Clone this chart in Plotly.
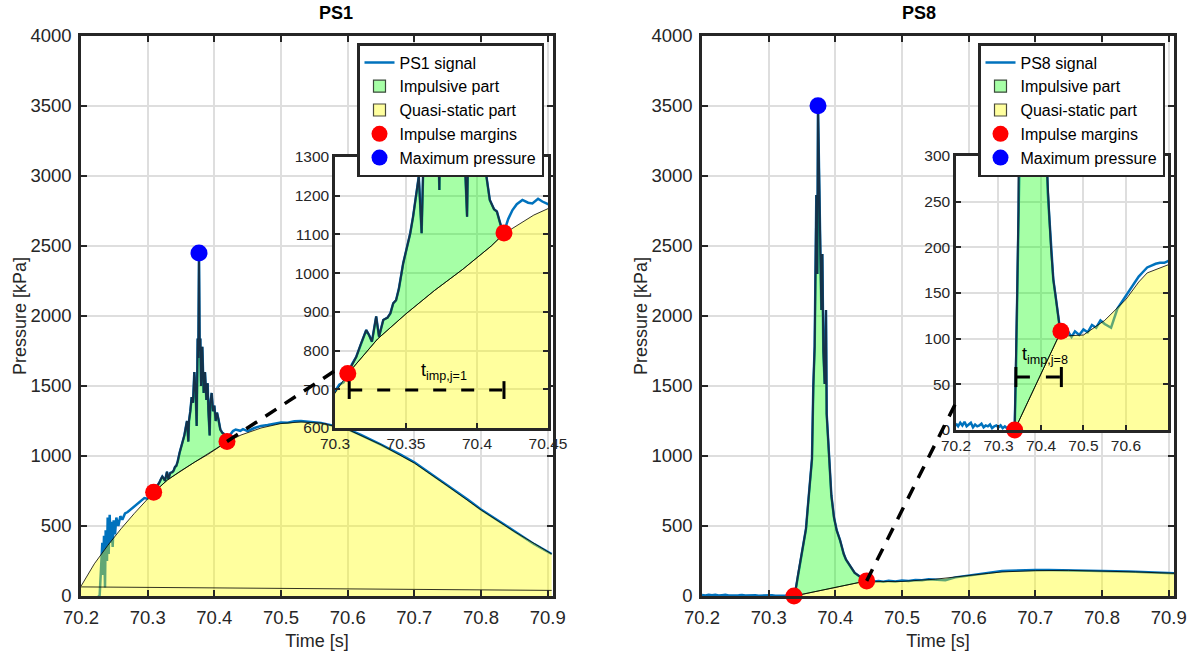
import numpy as np
import plotly.graph_objects as go

# ---------------- PS1 data ----------------
ps1_t = [70.200, 70.205, 70.210, 70.215, 70.220, 70.225, 70.228, 70.230, 70.232, 70.233,
         70.2345, 70.236, 70.237, 70.239, 70.240, 70.2415, 70.243, 70.2445, 70.246, 70.2475,
         70.249, 70.251, 70.253, 70.256, 70.259, 70.262, 70.266, 70.270, 70.275, 70.280,
         70.285, 70.290, 70.295, 70.300, 70.303, 70.306, 70.309, 70.312, 70.315, 70.318,
         70.320, 70.322, 70.324, 70.326, 70.329, 70.331, 70.334, 70.337, 70.339, 70.341,
         70.343, 70.345, 70.348, 70.351, 70.353, 70.355, 70.357, 70.358, 70.359, 70.361,
         70.362, 70.364, 70.366, 70.368, 70.370, 70.372, 70.3735, 70.375, 70.376, 70.377,
         70.378, 70.379, 70.380, 70.382, 70.384, 70.386, 70.388, 70.390, 70.391, 70.393,
         70.394, 70.396, 70.398, 70.400, 70.402, 70.404, 70.406, 70.409, 70.412, 70.414,
         70.417, 70.419, 70.422, 70.425, 70.428, 70.432, 70.436, 70.439, 70.443, 70.446,
         70.450, 70.460, 70.470, 70.480, 70.490, 70.500, 70.510, 70.520, 70.530, 70.540,
         70.550, 70.560, 70.580, 70.600, 70.620, 70.650, 70.680, 70.700, 70.730, 70.750,
         70.780, 70.800, 70.830, 70.850, 70.880, 70.906]
ps1_p = [-15, -20, -18, -22, -15, -10, 5, 200, 380, 150,
         430, 60, 470, 250, 560, 300, 580, 380, 530, 350,
         540, 440, 560, 500, 570, 545, 590, 600, 620, 640,
         665, 680, 700, 695, 712, 718, 742, 765, 784, 815,
         836, 853, 840, 823, 888, 836, 879, 885, 896, 922,
         930, 960, 1025, 1070, 1103, 1146, 1200, 1223, 1250, 1103,
         1250, 1320, 1420, 1380, 1600, 1450, 1215, 1840, 1700, 2450,
         1750, 1840, 1500, 1780, 1450, 1600, 1400, 1520, 1330, 1146,
         1380, 1450, 1320, 1360, 1250, 1310, 1266, 1189, 1165, 1159,
         1120, 1106, 1140, 1163, 1178, 1189, 1182, 1180, 1192, 1185,
         1178, 1200, 1215, 1222, 1230, 1240, 1238, 1248, 1250, 1244,
         1238, 1236, 1215, 1192, 1150, 1082, 1008, 955, 855, 790,
         690, 618, 525, 465, 370, 300]
ps1_qs_t = [70.200, 70.220, 70.240, 70.260, 70.280, 70.300, 70.309, 70.330, 70.350, 70.370,
            70.390, 70.410, 70.419, 70.440, 70.470, 70.500, 70.530, 70.560, 70.600, 70.650,
            70.700, 70.750, 70.800, 70.850, 70.906]
ps1_qs_p = [70, 230, 360, 480, 590, 690, 740, 830, 895, 955,
            1010, 1070, 1102, 1150, 1200, 1232, 1243, 1235, 1190, 1080,
            950, 785, 615, 460, 300]
ps1_base_t = [70.200, 70.906]
ps1_base_p = [65, 40]
ps1_margin_t = [70.309, 70.419]
ps1_margin_p = [741, 1104]
ps1_max_t = [70.377]
ps1_max_p = [2450]
ps1_span_t = [70.310, 70.419]
ps1_span_p = 698

# ---------------- PS8 data ----------------
ps8_t = [70.200, 70.205, 70.210, 70.215, 70.220, 70.225, 70.230, 70.235, 70.240, 70.245,
         70.250, 70.255, 70.260, 70.265, 70.270, 70.275, 70.280, 70.285, 70.290, 70.295,
         70.300, 70.305, 70.310, 70.315, 70.320, 70.325, 70.330, 70.335, 70.338, 70.341,
         70.344, 70.347, 70.350, 70.353, 70.356, 70.359, 70.362, 70.365, 70.367, 70.369,
         70.3715, 70.373, 70.374, 70.3755, 70.377, 70.379, 70.3805, 70.382, 70.384, 70.386,
         70.387, 70.389, 70.391, 70.394, 70.398, 70.402, 70.407, 70.4126, 70.416, 70.420,
         70.424, 70.429, 70.434, 70.440, 70.444, 70.447, 70.452, 70.458, 70.465, 70.472,
         70.480, 70.490, 70.500, 70.510, 70.520, 70.530, 70.540, 70.550, 70.565, 70.580,
         70.590, 70.600, 70.610, 70.620, 70.630, 70.640, 70.650, 70.660, 70.670, 70.680,
         70.690, 70.700, 70.720, 70.740, 70.760, 70.780, 70.800, 70.820, 70.840, 70.860,
         70.880, 70.908]
ps8_p = [7, 4, 8, 5, 9, 4, 6, 8, 3, 6,
         4, 5, 7, 3, 5, 4, 6, 2, 4, 5,
         3, 5, 2, 4, 2, 3, 4, 2, 0, 60,
         150, 240, 300, 390, 480, 650, 830, 980, 1500, 1780,
         2865, 2300, 3502, 2945, 2600, 2043, 2443, 1750, 1514, 2043,
         1300, 1114, 900, 720, 560, 470, 400, 300, 260, 230,
         197, 165, 148, 125, 113, 108, 104, 103, 107, 102,
         108, 104, 110, 107, 115, 112, 120, 116, 112, 133,
         140, 146, 153, 160, 168, 173, 178, 180, 182, 183,
         183, 185, 186, 185, 183, 182, 180, 178, 175, 172,
         168, 163]
ps8_qs_t = [70.338, 70.447, 70.460, 70.500, 70.550, 70.580, 70.600, 70.630, 70.650, 70.700,
            70.750, 70.800, 70.850, 70.908]
ps8_qs_p = [0, 108, 103, 104, 120, 134, 143, 162, 172, 181,
            183, 179, 172, 162]
ps8_margin_t = [70.338, 70.447]
ps8_margin_p = [0, 108]
ps8_max_t = [70.374]
ps8_max_p = [3502]
ps8_span_t = [70.341, 70.448]
ps8_span_p = 58

# axis ticks
main_xticks = [70.2, 70.3, 70.4, 70.5, 70.6, 70.7, 70.8, 70.9]
main_xticktext = ["70.2", "70.3", "70.4", "70.5", "70.6", "70.7", "70.8", "70.9"]
ins1_xticks = [70.3, 70.35, 70.4, 70.45]
ins1_xticktext = ["70.3", "70.35", "70.4", "70.45"]
ins8_xticks = [70.2, 70.3, 70.4, 70.5, 70.6]
ins8_xticktext = ["70.2", "70.3", "70.4", "70.5", "70.6"]

# ---------------- style ----------------
W, H = 1189, 652
BLUE = '#0072BD'
YEL = 'rgba(255,255,0,0.38)'
GRN = 'rgba(0,255,0,0.35)'
DARK = '#15324a'
AXC = '#262626'
FONT = 'Liberation Sans, Arial, sans-serif'
TICK = 18.5

def px_dom_x(a, b):
    return [a / W, b / W]

def px_dom_y(bottom, top):
    return [1 - bottom / H, 1 - top / H]

DOM = {
    'x': (px_dom_x(81, 553), [70.2, 70.908]),
    'y': (px_dom_y(596, 36), [0, 4000]),
    'x2': (px_dom_x(702, 1174), [70.2, 70.908]),
    'y2': (px_dom_y(596, 36), [0, 4000]),
    'x3': (px_dom_x(335, 548), [70.3, 70.45]),
    'y3': (px_dom_y(428, 157), [600, 1300]),
    'x4': (px_dom_x(956, 1168), [70.2, 70.699]),
    'y4': (px_dom_y(430, 156), [0, 300]),
}

def to_paper(ax, v):
    (d0, d1), (r0, r1) = DOM[ax]
    return d0 + (v - r0) / (r1 - r0) * (d1 - d0)

def seg(t, p, t0, t1):
    t = np.asarray(t, float)
    p = np.asarray(p, float)
    m = (t >= t0 - 1e-9) & (t <= t1 + 1e-9)
    return t[m], p[m]

fig = go.Figure()

def add_panel(xa, ya, sig_t, sig_p, qs_t, qs_p, m_t, m_p, mx_t, mx_p, base, legend, label, main):
    sl = main
    fig.add_trace(go.Scatter(x=sig_t, y=sig_p, mode='lines', line=dict(color=BLUE, width=2.5),
                             name=label, xaxis=xa, yaxis=ya, legend=legend, showlegend=sl, legendrank=1))
    fig.add_trace(go.Scatter(x=qs_t, y=qs_p, mode='lines', fill='tozeroy', fillcolor=YEL,
                             line=dict(color='black', width=0.8), name='Quasi-static part',
                             xaxis=xa, yaxis=ya, showlegend=False))
    if base is not None:
        fig.add_trace(go.Scatter(x=base[0], y=base[1], mode='lines', line=dict(color='black', width=0.8),
                                 xaxis=xa, yaxis=ya, showlegend=False, hoverinfo='skip'))
    it, ip = seg(qs_t, qs_p, m_t[0], m_t[1])
    fig.add_trace(go.Scatter(x=it, y=ip, mode='lines', line=dict(color='black', width=0.8),
                             xaxis=xa, yaxis=ya, showlegend=False))
    st, sp = seg(sig_t, sig_p, m_t[0], m_t[1])
    fig.add_trace(go.Scatter(x=st, y=sp, mode='lines', fill='tonexty', fillcolor=GRN,
                             line=dict(color=DARK, width=2), name='Impulsive part',
                             xaxis=xa, yaxis=ya, showlegend=False))
    fig.add_trace(go.Scatter(x=m_t, y=m_p, mode='markers', marker=dict(color='#ff0000', size=17, line=dict(width=0)),
                             name='Impulse margins', cliponaxis=False,
                             xaxis=xa, yaxis=ya, legend=legend, showlegend=sl, legendrank=4))
    if main:
        fig.add_trace(go.Scatter(x=mx_t, y=mx_p, mode='markers', marker=dict(color='#0000ff', size=17, line=dict(width=0)),
                                 name='Maximum pressure', cliponaxis=False,
                                 xaxis=xa, yaxis=ya, legend=legend, showlegend=sl, legendrank=5))
        # legend proxies (rectangle swatches) for the two filled areas
        (r0, _), (q0, _) = DOM[xa][1], DOM[ya][1]
        fig.add_shape(type='rect', xref=xa, yref=ya, x0=r0, x1=r0, y0=q0, y1=q0, layer='below',
                      fillcolor='rgb(166,255,166)', line=dict(color='#3a4a3a', width=1.2),
                      showlegend=True, legend=legend, name='Impulsive part', legendrank=2)
        fig.add_shape(type='rect', xref=xa, yref=ya, x0=r0, x1=r0, y0=q0, y1=q0, layer='below',
                      fillcolor='rgb(255,255,158)', line=dict(color='#4a4a3a', width=1.2),
                      showlegend=True, legend=legend, name='Quasi-static part', legendrank=3)

add_panel('x', 'y', ps1_t, ps1_p, ps1_qs_t, ps1_qs_p, ps1_margin_t, ps1_margin_p, ps1_max_t, ps1_max_p,
          (ps1_base_t, ps1_base_p), 'legend', 'PS1 signal', True)
add_panel('x2', 'y2', ps8_t, ps8_p, ps8_qs_t, ps8_qs_p, ps8_margin_t, ps8_margin_p, ps8_max_t, ps8_max_p,
          None, 'legend2', 'PS8 signal', True)
add_panel('x3', 'y3', ps1_t, ps1_p, ps1_qs_t, ps1_qs_p, ps1_margin_t, ps1_margin_p, ps1_max_t, ps1_max_p,
          (ps1_base_t, ps1_base_p), 'legend', 'PS1 signal', False)
add_panel('x4', 'y4', ps8_t, ps8_p, ps8_qs_t, ps8_qs_p, ps8_margin_t, ps8_margin_p, ps8_max_t, ps8_max_p,
          None, 'legend2', 'PS8 signal', False)

axc = dict(showline=True, linecolor=AXC, linewidth=2.5, mirror='ticks', ticks='inside', ticklen=6,
           tickwidth=2, tickcolor=AXC, showgrid=True, gridcolor='#dedede', gridwidth=1.5, zeroline=False,
           automargin=False, tickfont=dict(family=FONT, size=TICK, color=AXC))
insc = dict(axc, tickfont=dict(family=FONT, size=15.5, color=AXC), ticklen=5)

def dom(k):
    return DOM[k][0]

def rng(k):
    return DOM[k][1]

xtitle = dict(text='Time [s]', font=dict(family=FONT, size=18, color=AXC), standoff=8)
ytitle = dict(text='Pressure [kPa]', font=dict(family=FONT, size=18, color=AXC), standoff=0)
leg = dict(y=1 - 43 / H, xanchor='right', yanchor='top', bgcolor='white', traceorder='normal',
           bordercolor=AXC, borderwidth=2.5, font=dict(family=FONT, size=16, color='black'),
           tracegroupgap=0, itemwidth=30)

fig.update_layout(
    width=W, height=H, margin=dict(l=0, r=0, t=0, b=0, autoexpand=False),
    paper_bgcolor='white', plot_bgcolor='white',
    font=dict(family=FONT, size=17, color=AXC),
    xaxis=dict(axc, domain=dom('x'), range=rng('x'), anchor='y', tickvals=main_xticks, ticktext=main_xticktext,
               ticklabelstandoff=3, title=xtitle),
    yaxis=dict(axc, domain=dom('y'), range=rng('y'), anchor='x', dtick=500, ticklabelstandoff=3, title=ytitle),
    xaxis2=dict(axc, domain=dom('x2'), range=rng('x2'), anchor='y2', tickvals=main_xticks, ticktext=main_xticktext,
                ticklabelstandoff=3, title=xtitle),
    yaxis2=dict(axc, domain=dom('y2'), range=rng('y2'), anchor='x2', dtick=500, ticklabelstandoff=3, title=ytitle),
    xaxis3=dict(insc, domain=dom('x3'), range=rng('x3'), anchor='y3', tickvals=ins1_xticks, ticktext=ins1_xticktext),
    yaxis3=dict(insc, domain=dom('y3'), range=rng('y3'), anchor='x3', dtick=100),
    xaxis4=dict(insc, domain=dom('x4'), range=rng('x4'), anchor='y4', tickvals=ins8_xticks, ticktext=ins8_xticktext),
    yaxis4=dict(insc, domain=dom('y4'), range=rng('y4'), anchor='x4', dtick=50),
    legend=dict(leg, x=544 / W),
    legend2=dict(leg, x=1165 / W),
    showlegend=True,
)

# titles
for txt, xa in (('PS1', 'x'), ('PS8', 'x2')):
    d = DOM[xa][0]
    fig.add_annotation(x=(d[0] + d[1]) / 2, y=1 - 13 / H, xref='paper', yref='paper', text='<b>%s</b>' % txt,
                       showarrow=False, font=dict(family=FONT, size=18, color='black'), yanchor='middle')

# connectors main -> inset
def connector(xa, ya, t0, p0, xb, yb, t1, p1):
    fig.add_shape(type='line', xref='paper', yref='paper',
                  x0=to_paper(xa, t0), y0=to_paper(ya, p0), x1=to_paper(xb, t1), y1=to_paper(yb, p1),
                  line=dict(color='black', width=3.5, dash='13px,10px'), layer='above')

connector('x', 'y', ps1_margin_t[1], ps1_margin_p[1], 'x3', 'y3', 70.3, 748)
connector('x2', 'y2', ps8_margin_t[1], ps8_margin_p[1], 'x4', 'y4', 70.2, 30)

# time span markers in insets
def span(xa, ya, ts, pv, half, dash, label, lx, ly):
    fig.add_shape(type='line', xref=xa, yref=ya, x0=ts[0], x1=ts[1], y0=pv, y1=pv,
                  line=dict(color='black', width=3, dash=dash), layer='above')
    for tv in ts:
        fig.add_shape(type='line', xref=xa, yref=ya, x0=tv, x1=tv, y0=pv - half, y1=pv + half,
                      line=dict(color='black', width=3), layer='above')
    fig.add_annotation(x=lx, y=ly, xref=xa, yref=ya, text=label, showarrow=False,
                       font=dict(family=FONT, size=18, color='black'), xanchor='center', yanchor='middle')

span('x3', 'y3', ps1_span_t, ps1_span_p, 23, '13px,15px', 't<sub>imp,j=1</sub>', 70.377, 745)
span('x4', 'y4', ps8_span_t, ps8_span_p, 11, '14px,16px', 't<sub>imp,j=8</sub>', 70.409, 82)

fig.write_html('out.html')
